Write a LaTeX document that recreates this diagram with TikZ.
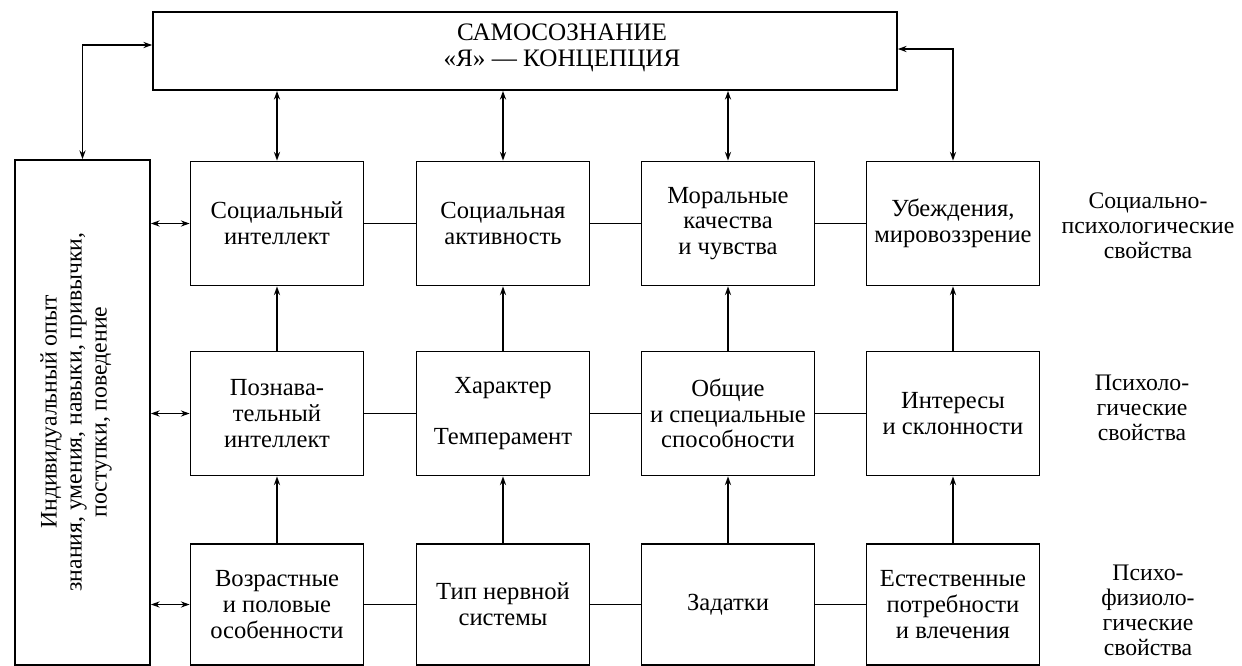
\documentclass[tikz,border=0pt]{standalone}
\usepackage{fontspec}
\setmainfont{Liberation Serif}
\usetikzlibrary{arrows.meta}

\begin{document}
\begin{tikzpicture}[x=0.02cm, y=-0.02cm,
    box/.style={draw, line width=1pt, align=center, inner sep=2pt,
        minimum width=3.46cm, minimum height=2.48cm,
        font=\fontsize{14}{14.6}\selectfont},
    side/.style={align=center, font=\fontsize{13.5}{14.2}\selectfont},
    link/.style={line width=0.9pt},
    bilink/.style={link, {Stealth[length=5pt,width=3.5pt]}-{Stealth[length=5pt,width=3.5pt]}},
    uplink/.style={link, -{Stealth[length=5pt,width=3.5pt]}}]

        % Define parameters (pixel grid of the page)
        \def\colA{277}   % first column
        \def\colB{503}   % second column
        \def\colC{728}   % third column
        \def\colD{953}   % fourth column
        \def\rowA{223.5} % social-psychological level
        \def\rowB{413.5} % psychological level
        \def\rowC{604.5} % psycho-physiological level
        \def\labx{1148}  % level captions

        \useasboundingbox (0,0) rectangle (1242,666);

        % Top block and the experience block
        \node[box, minimum width=14.88cm, minimum height=1.56cm,
            label={[side, font=\fontsize{14.3}{14.6}\selectfont, xshift=0.74cm, yshift=0.06cm]center:САМОСОЗНАНИЕ\\«Я» — КОНЦЕПЦИЯ}]
            (self) at (525,51) {};
        \node[box, minimum width=2.7cm, minimum height=10.1cm] (exp) at (82.5,412.5) {};
        \node[side, rotate=90] (exptxt) at (76,412)
            {Индивидуальный опыт\\знания, умения, навыки, привычки,\\поступки, поведение};

        % First level
        \node[box] (si)   at (\colA,\rowA) {Социальный\\интеллект};
        \node[box] (sa)   at (\colB,\rowA) {Социальная\\активность};
        \node[box] (mq)   at (\colC,\rowA) {Моральные\\качества\\и чувства};
        \node[box] (conv) at (\colD,\rowA) {Убеждения,\\мировоззрение};

        % Second level
        \node[box] (cog)  at (\colA,\rowB) {Познава-\\тельный\\интеллект};
        \node[box] (chr)  at (\colB,\rowB) {Характер\\[0.5cm]Темперамент};
        \node[box] (abil) at (\colC,\rowB) {Общие\\и специальные\\способности};
        \node[box] (intr) at (\colD,\rowB) {Интересы\\и склонности};

        % Third level
        \node[box, minimum height=2.42cm] (age)  at (\colA,\rowC) {Возрастные\\и половые\\особенности};
        \node[box, minimum height=2.42cm] (nerv) at (\colB,\rowC) {Тип нервной\\системы};
        \node[box, minimum height=2.42cm] (zad)  at (\colC,\rowC) {Задатки};
        \node[box, minimum height=2.42cm] (need) at (\colD,\rowC) {Естественные\\потребности\\и влечения};

        % Level captions
        \node[side] (lab1) at (\labx,226) {Социально-\\психологические\\свойства};
        \node[side] (lab2) at (1142,408) {Психоло-\\гические\\свойства};
        \node[side] (lab3) at (\labx,610) {Психо-\\физиоло-\\гические\\свойства};

        % Links with the top block
        \draw[bilink] ([yshift=0.12cm]self.west) -| (exp.north);
        \draw[bilink] ([yshift=0.04cm]self.east) -| (conv.north);
        \foreach \b in {si, sa, mq}
            \draw[bilink] (self.south -| \b.north) -- (\b.north);

        % Links with the experience block
        \foreach \b in {si, cog, age}
            \draw[bilink] (exp.east |- \b.west) -- (\b.west);

        % Upward links between levels
        \foreach \low/\high in {cog/si, chr/sa, abil/mq, intr/conv,
                                age/cog, nerv/chr, zad/abil, need/intr}
            \draw[uplink] (\low) -- (\high);

        % Plain links along each level
        \foreach \a/\b in {si/sa, sa/mq, mq/conv, cog/chr, chr/abil, abil/intr,
                           age/nerv, nerv/zad, zad/need}
            \draw[link] (\a) -- (\b);

    \end{tikzpicture}
\end{document}
